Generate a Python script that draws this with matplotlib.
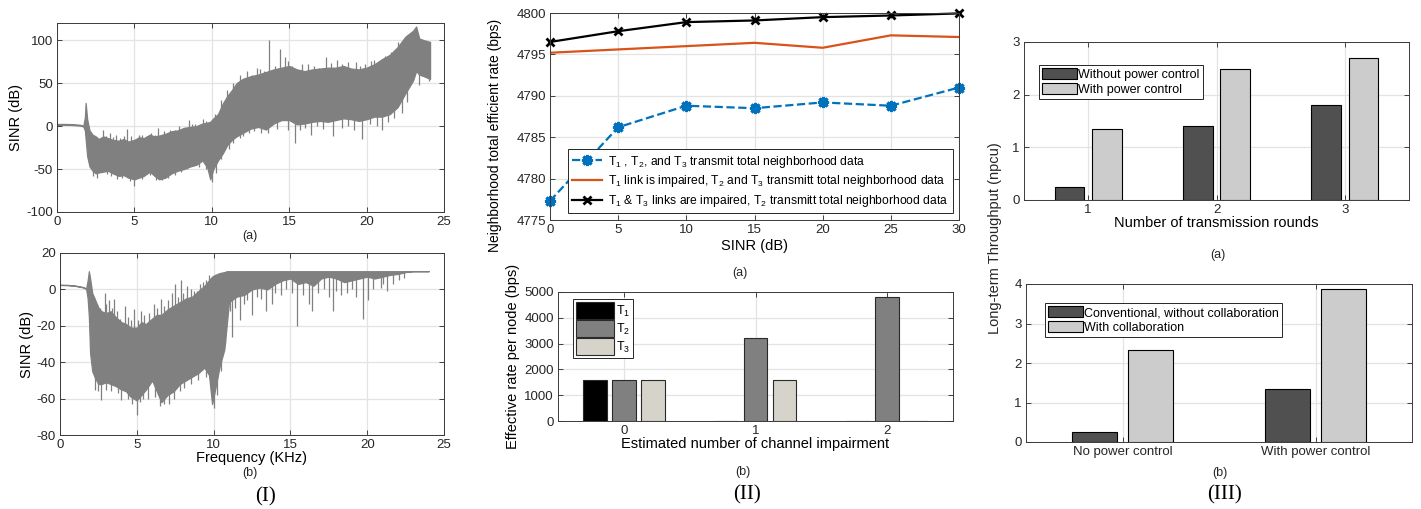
import numpy as np
import matplotlib
matplotlib.use('Agg')
import matplotlib.pyplot as plt

plt.rcParams['font.family'] = ['Liberation Sans', 'DejaVu Sans']
plt.rcParams['mathtext.fontset'] = 'custom'
plt.rcParams['mathtext.rm'] = 'Liberation Sans'
plt.rcParams['mathtext.it'] = 'Liberation Sans:italic'
plt.rcParams['mathtext.bf'] = 'Liberation Sans:bold'
plt.rcParams['axes.unicode_minus'] = False

# ---------------- Panel I (a): SINR envelope vs frequency ----------------
freq_a = [0, 0.5, 1.0, 1.5, 1.7, 1.8, 1.85, 1.95, 2.1, 2.3, 2.5, 2.7, 3.0, 3.3, 3.6,
          4.0, 4.3, 4.6, 5.0, 5.3, 5.6, 6.0, 6.3, 6.6, 7.0, 7.4, 7.8, 8.2, 8.6, 9.0,
          9.4, 9.7, 9.9, 10.1, 10.4, 10.7, 11.0, 11.3, 11.6, 12.0, 12.5, 13.0, 13.5,
          14.0, 14.5, 15.0, 15.5, 16.0, 16.5, 17.0, 17.5, 18.0, 18.5, 19.0, 19.5,
          20.0, 20.5, 21.0, 21.5, 22.0, 22.5, 23.0, 23.2, 23.4, 23.7, 24.1]
upper_a = [2.5, 2.5, 2.3, 1.5, 0.5, 10, 27, 8, -5, -10, -12, -15, -12, -14, -16,
           -17, -15, -18, -16, -13, -14, -10, -12, -11, -9, -6, -5, -2, -1, 0,
           3, 4, 5, 9, 14, 26, 35, 42, 50, 55, 58, 60, 63,
           66, 68, 70, 66, 64, 66, 67, 68, 68, 70, 67, 66,
           68, 72, 78, 83, 92, 104, 111, 116, 102, 100, 98]
lower_a = [1.5, 1.5, 1.3, 0.5, -0.5, -5, -15, -35, -47, -52, -55, -54, -53, -52, -55,
           -58, -57, -60, -62, -60, -58, -53, -58, -62, -60, -55, -52, -50, -47, -45,
           -40, -48, -62, -50, -40, -32, -22, -16, -12, -8, -3, -1, -4,
           3, 7, 7, 2, 3, 5, 6, 5, 7, 9, 8, 6,
           8, 11, 11, 14, 22, 38, 53, 64, 60, 58, 55]
spike_freq_a = [3.0, 3.4, 4.5, 5.3, 6.5, 7.3, 7.9, 8.5, 8.9, 9.4, 12.3, 12.9, 13.7,
                14.4, 14.7, 16.2, 17.4, 18.1, 19.3, 20.3, 20.5,
                2.6, 3.9, 5.0, 6.8, 10.0, 11.1, 12.0, 13.2, 15.4, 16.4, 17.8, 19.7,
                21.0, 22.3, 23.4, 24.0,
                2.2, 2.45, 2.8, 3.15, 3.6, 3.8, 4.1, 4.3, 4.8, 5.1, 5.5, 5.8, 6.1, 6.3,
                6.9, 7.1, 7.6, 8.1, 8.3, 8.7, 9.1, 9.6, 9.8, 10.2, 10.6, 11.0, 11.4,
                11.8, 12.6, 13.1, 13.4, 14.1, 14.9, 15.2, 15.8, 16.6, 16.9, 17.7, 18.4,
                18.8, 19.6, 19.9, 21.2, 21.6, 22.0, 22.7,
                2.3, 3.2, 3.5, 4.2, 4.7, 5.5, 6.0, 6.4, 7.2, 7.6, 8.0, 8.4, 9.2, 9.6,
                10.3, 10.6, 11.4, 11.8, 12.4, 12.7, 13.6, 14.2, 14.9, 15.7, 16.0, 16.8,
                17.2, 18.4, 18.8, 19.2, 20.2, 20.7, 21.4, 21.8, 22.6]
spike_tip_a = [-5, -8, -3, -10, -2, -5, 0, 7, 3, 8, 64, 68, 100,
               90, 80, 72, 80, 77, 75, 76, 77,
               -61, -62, -70, -63, -65, -27, -12, -8, -20, -10, -12, -15,
               -5, 15, 48, 53,
               -12, -18, -14, -12, -13, -10, -14, -12, -11, -15, -10, -12, -8, -10,
               -6, -10, -4, -3, -5, 2, -1, 6, 4, 14, 30, 42, 50,
               60, 60, 66, 64, 70, 76, 70, 72, 70, 68, 74, 72,
               75, 70, 72, 82, 86, 98, 106,
               -58, -56, -58, -61, -64, -62, -57, -63, -61, -57, -54, -50, -48, -50,
               -55, -38, -20, -14, -8, -6, -8, -3, -5, -4, -2, 0,
               -3, -2, 0, -4, 2, 0, 5, 10, 28]

# ---------------- Panel I (b) ----------------
freq_b = [0, 0.5, 1.0, 1.5, 1.7, 1.8, 1.88, 1.96, 2.1, 2.3, 2.5, 2.7, 3.0, 3.3, 3.6,
          4.0, 4.3, 4.6, 5.0, 5.3, 5.6, 6.0, 6.3, 6.6, 7.0, 7.4, 7.8, 8.2, 8.6,
          9.0, 9.4, 9.7, 9.9, 10.1, 10.4, 10.7, 10.85, 11.0, 11.5,
          12.0, 12.5, 13.0, 13.5, 14.0, 14.5, 15.0, 15.5, 16.0, 16.5, 17.0, 17.5,
          18.0, 18.5, 19.0, 19.5, 20.0, 20.5, 21.0, 21.5, 22.0, 22.5, 23.0, 23.5, 24.0]
upper_b = [2.6, 2.5, 2.1, 1.3, 0.5, 5, 10, 6, -2, -6, -10, -12, -13, -12, -15,
           -18, -19, -21, -21, -18, -19, -16, -14, -14, -11, -9, -7, -5, -4,
           -1, 2, 5, 7, 8, 9, 9.5, 10, 10, 10,
           10, 10, 10, 10, 10, 10, 10, 10, 10, 10, 10, 10,
           10, 10, 10, 10, 10, 10, 10, 10, 10, 10, 10, 10, 10]
lower_b = [2.4, 2.3, 1.9, 1.1, 0.3, -5, -15, -35, -45, -49, -52, -52, -51, -52, -53,
           -55, -56, -59, -61, -58, -55, -50, -56, -62, -58, -56, -52, -50, -48,
           -46, -43, -47, -63, -55, -42, -33, -20, -7, -4,
           -3, 0, 1, 0, 3, 5, 6, 3, 4, 2, 6, 7,
           6, 4, 5, 6, 7, 6, 7, 8, 8.5, 9.5, 10, 10, 10]
spike_freq_b = [2.9, 3.2, 3.5, 4.2, 4.8, 5.3, 6.1, 6.6, 7.3, 7.5, 7.9, 8.3, 8.7, 9.1, 9.7,
                2.7, 4.0, 5.0, 5.7, 7.1, 10.0, 11.2, 11.7, 12.5, 13.4, 13.8, 15.4,
                16.2, 16.4, 17.75, 18.3, 19.7, 20.07, 21.0, 22.1,
                2.2, 2.4, 2.6, 3.0, 3.4, 3.7, 3.9, 4.4, 4.6, 5.1, 5.5, 5.8, 6.3, 6.8,
                7.0, 7.7, 8.0, 8.5, 8.9, 9.3, 9.5,
                2.3, 2.5, 3.0, 3.3, 3.8, 4.4, 4.7, 5.2, 5.4, 6.2, 6.5, 6.8, 7.4, 7.8,
                8.1, 8.5, 9.0, 9.5, 10.2, 10.5, 10.75, 11.05, 11.4, 12.0, 12.2, 12.8,
                13.1, 14.0, 14.4, 14.7, 15.1, 15.8, 16.8, 17.2, 17.5, 18.0, 18.7, 19.0,
                19.3, 20.4, 20.9, 21.3, 21.7, 22.4]
spike_tip_b = [-2, -6, -5, -9, -11, -12, -8, -5, -2, 3, 5, 2, -1, 3, 8,
               -61, -61, -69, -60, -63, -65, -26, -17, -14, -12, -8, -20,
               -8, -12, -12, -3, -16, -6, 3, 5,
               -4, -8, -10, -8, -10, -12, -16, -15, -17, -17, -14, -13, -10, -9,
               -6, -4, -2, 0, -1, 4, 5,
               -55, -56, -55, -56, -57, -60, -63, -62, -60, -59, -64, -63, -60, -56,
               -54, -52, -50, -48, -58, -45, -30, -12, -10, -8, -6, -4,
               -5, -2, -3, 0, -2, -3, -2, 0, -4, -1, -2, 0,
               -4, 0, 1, -1, 3, 6]

# ---------------- Panel II (a) ----------------
sinr_db = [0, 5, 10, 15, 20, 25, 30]
rate_all_transmit = [4777.3, 4786.2, 4788.8, 4788.5, 4789.2, 4788.8, 4791.0]
rate_t1_impaired = [4795.2, 4795.6, 4796.0, 4796.4, 4795.8, 4797.3, 4797.1]
rate_t1_t3_impaired = [4796.5, 4797.8, 4798.9, 4799.1, 4799.5, 4799.7, 4799.95]
legend_II_a = [r'T$_1$ , T$_2$, and T$_3$ transmit total neighborhood data',
               r'T$_1$ link is impaired, T$_2$ and T$_3$ transmitt total neighborhood data',
               r'T$_1$ & T$_3$ links are impaired, T$_2$ transmitt total neighborhood data']

# ---------------- Panel II (b) ----------------
impairments = [0, 1, 2]
rate_T1 = [1600, 0, 0]
rate_T2 = [1600, 3200, 4800]
rate_T3 = [1600, 1600, 0]
node_labels = [r'T$_1$', r'T$_2$', r'T$_3$']

# ---------------- Panel III ----------------
rounds = [1, 2, 3]
thr_without_pc = [0.24, 1.40, 1.80]
thr_with_pc = [1.34, 2.49, 2.69]
scenarios = ['No power control', 'With power control']
thr_conventional = [0.25, 1.34]
thr_collab = [2.32, 3.87]

W, H = 1421, 509
fig = plt.figure(figsize=(W / 100, H / 100), dpi=100)


def rect(x0, y0, x1, y1):
    return [x0 / W, 1 - y1 / H, (x1 - x0) / W, (y1 - y0) / H]


def style(ax, fs=9.5):
    ax.tick_params(direction='in', top=True, right=True, length=3.5, width=0.6,
                   labelsize=fs, colors='#262626', pad=3)
    ax.grid(True, color='#E3E3E3', linewidth=0.9)
    ax.set_axisbelow(True)
    for s in ax.spines.values():
        s.set_color('#3a3a3a')
        s.set_linewidth(0.7)


gray = '#808080'


def sinr_panel(ax, f, up, lo, sf, st):
    ax.fill_between(f, lo, up, color=gray, linewidth=0.9, edgecolor=gray)
    base_up = np.interp(sf, f, up)
    base_lo = np.interp(sf, f, lo)
    mid = (base_up + base_lo) / 2
    ax.vlines(sf, mid, st, color=gray, linewidth=0.9)


# I (a)
ax1 = fig.add_axes(rect(57, 23, 444, 212))
style(ax1)
sinr_panel(ax1, freq_a, upper_a, lower_a, spike_freq_a, spike_tip_a)
ax1.set_xlim(0, 25)
ax1.set_ylim(-100, 120)
ax1.set_xticks([0, 5, 10, 15, 20, 25])
ax1.set_yticks([-100, -50, 0, 50, 100])
ax1.set_ylabel('SINR (dB)', fontsize=10.5, labelpad=2)

# I (b)
ax2 = fig.add_axes(rect(60, 253, 444, 435))
style(ax2)
sinr_panel(ax2, freq_b, upper_b, lower_b, spike_freq_b, spike_tip_b)
ax2.set_xlim(0, 25)
ax2.set_ylim(-80, 20)
ax2.set_xticks([0, 5, 10, 15, 20, 25])
ax2.set_yticks([-80, -60, -40, -20, 0, 20])
ax2.set_ylabel('SINR (dB)', fontsize=10.5, labelpad=2)
ax2.set_xlabel('Frequency (KHz)', fontsize=10.5, labelpad=0)

# II (a)
ax3 = fig.add_axes(rect(550, 13, 959, 220))
style(ax3)
ax3.plot(sinr_db, rate_all_transmit, '--', color='#0072BD', linewidth=1.6,
         marker=(8, 2, 0), markersize=8, markeredgewidth=2.2, clip_on=False,
         label=legend_II_a[0])
ax3.plot(sinr_db, rate_t1_impaired, '-', color='#D95319', linewidth=1.6,
         label=legend_II_a[1])
ax3.plot(sinr_db, rate_t1_t3_impaired, '-', color='black', linewidth=1.6,
         marker='x', markersize=6, markeredgewidth=2, clip_on=False,
         label=legend_II_a[2])
ax3.set_xlim(0, 30)
ax3.set_ylim(4775, 4800)
ax3.set_xticks(sinr_db)
ax3.set_yticks([4775, 4780, 4785, 4790, 4795, 4800])
ax3.set_xlabel('SINR (dB)', fontsize=10.5, labelpad=2)
ax3.set_ylabel('Neighborhood total efficient rate (bps)', fontsize=10)
ax3.yaxis.set_label_coords(-0.118, 0.41)
leg = ax3.legend(loc='lower right', bbox_to_anchor=(953 / W, 1 - 213 / H),
                 bbox_transform=fig.transFigure, fontsize=8.7, fancybox=False,
                 framealpha=1, edgecolor='#262626', handlelength=2.5,
                 borderpad=0.35, labelspacing=0.3, handletextpad=0.5, borderaxespad=0)
leg.get_frame().set_linewidth(0.7)

# II (b)
ax4 = fig.add_axes(rect(558, 292, 953, 421))
style(ax4)
x = np.array(impairments, dtype=float)
bw = 0.18
for off, vals, col, lab in [(-0.22, rate_T1, '#000000', node_labels[0]),
                            (0.0, rate_T2, '#808080', node_labels[1]),
                            (0.22, rate_T3, '#D6D3CB', node_labels[2])]:
    ax4.bar(x + off, vals, width=bw, color=col, edgecolor='#2a2a2a',
            linewidth=0.8, label=lab)
ax4.set_xlim(-0.5, 2.5)
ax4.set_ylim(0, 5000)
ax4.set_xticks(impairments)
ax4.set_yticks([0, 1000, 2000, 3000, 4000, 5000])
ax4.set_xlabel('Estimated number of channel impairment', fontsize=10.5, labelpad=0)
ax4.set_ylabel('Effective rate per node (bps)', fontsize=10.5, labelpad=3)
leg = ax4.legend(loc='upper left', bbox_to_anchor=(573 / W, 1 - 299 / H),
                 bbox_transform=fig.transFigure, fontsize=9, fancybox=False,
                 framealpha=1, edgecolor='#262626', handlelength=3.0,
                 handleheight=1.7, borderpad=0.25, labelspacing=0.1,
                 handletextpad=0.15, borderaxespad=0)
leg.get_frame().set_linewidth(0.7)

# III (a)
ax5 = fig.add_axes(rect(1024, 42, 1409, 200))
style(ax5)
r = np.array(rounds, dtype=float)
bw3 = 0.23
ax5.bar(r - 0.145, thr_without_pc, width=bw3, color='#505050', edgecolor='black',
        linewidth=0.8, label='Without power control')
ax5.bar(r + 0.145, thr_with_pc, width=bw3, color='#CCCCCC', edgecolor='black',
        linewidth=0.8, label='With power control')
ax5.set_xlim(0.5, 3.5)
ax5.set_ylim(0, 3)
ax5.set_xticks(rounds)
ax5.set_yticks([0, 1, 2, 3])
ax5.set_xlabel('Number of transmission rounds', fontsize=10.5, labelpad=0)
leg = ax5.legend(loc='upper left', bbox_to_anchor=(1039 / W, 1 - 65 / H),
                 bbox_transform=fig.transFigure, fontsize=9, fancybox=False,
                 framealpha=1, edgecolor='#262626', handlelength=2.8,
                 handleheight=1.0, borderpad=0.25, labelspacing=0.15,
                 handletextpad=0.1, borderaxespad=0)
leg.get_frame().set_linewidth(0.7)

# III (b)
ax6 = fig.add_axes(rect(1026, 284, 1412, 442))
style(ax6)
s = np.arange(1, len(scenarios) + 1, dtype=float)
ax6.bar(s - 0.145, thr_conventional, width=bw3, color='#505050', edgecolor='black',
        linewidth=0.8, label='Conventional, without collaboration')
ax6.bar(s + 0.145, thr_collab, width=bw3, color='#CCCCCC', edgecolor='black',
        linewidth=0.8, label='With collaboration')
ax6.set_xlim(0.5, 2.5)
ax6.set_ylim(0, 4)
ax6.set_xticks(s)
ax6.set_xticklabels(scenarios)
ax6.set_yticks([0, 1, 2, 3, 4])
leg = ax6.legend(loc='upper left', bbox_to_anchor=(1045 / W, 1 - 303 / H),
                 bbox_transform=fig.transFigure, fontsize=9, fancybox=False,
                 framealpha=1, edgecolor='#262626', handlelength=2.8,
                 handleheight=1.0, borderpad=0.25, labelspacing=0.15,
                 handletextpad=0.1, borderaxespad=0)
leg.get_frame().set_linewidth(0.7)

fig.text(995 / W, 1 - 238 / H, 'Long-term Throughput (npcu)', rotation=90,
         ha='center', va='center', fontsize=10.5, color='#262626')

# sub-captions
for (px, py, t) in [(250, 236, '(a)'), (250, 473, '(b)'), (740, 273, '(a)'),
                    (743, 472, '(b)'), (1218, 255, '(a)'), (1220, 473, '(b)')]:
    fig.text(px / W, 1 - py / H, t, ha='center', va='center', fontsize=9,
             color='#262626')
for (px, py, t) in [(265, 497, '(I)'), (747, 495, '(II)'), (1225, 495, '(III)')]:
    fig.text(px / W, 1 - py / H, t, ha='center', va='center', fontsize=15,
             family='Liberation Serif', color='black')

fig.savefig('out.png', dpi=100)
